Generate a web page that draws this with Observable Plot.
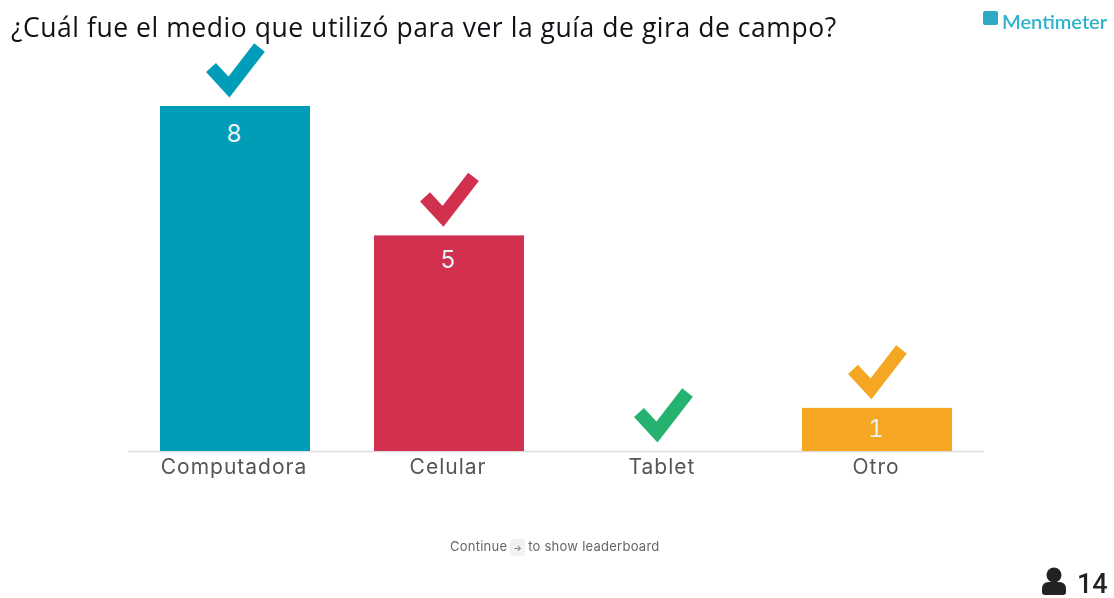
<!DOCTYPE html>
<html lang="es">
<head>
<meta charset="utf-8">
<script src="https://cdn.jsdelivr.net/npm/d3@7"></script>
<script src="https://cdn.jsdelivr.net/npm/@observablehq/plot@0.6"></script>
<style>
html,body{margin:0;padding:0;background:#fff;width:1114px;height:598px;overflow:hidden}
#wrap{position:relative;width:1114px;height:598px;filter:blur(0.7px)}
#wrap svg{display:block}
.abs{position:absolute;white-space:nowrap;line-height:1}
#title{left:11px;top:9px;font:500 26.5px "Open Sans",sans-serif;color:#111118;letter-spacing:.55px}
#logo{left:1002px;top:9px;font:600 20px Lato,sans-serif;color:#2fb3cc}
#mark{left:983px;top:11px;width:15px;height:14px;background:#2fa8c4;border-radius:2px}
#cont{left:450px;top:538px;font:13px Inter,sans-serif;color:#666;letter-spacing:.25px}
#cont span{display:inline-block;background:#f2f2f2;border-radius:3px;padding:3px 3px;margin:0 3px;font-size:9px}
#count{left:1077px;top:568px;font:500 27px Roboto,sans-serif;color:#222;padding-right:2px}
#user{left:1041px;top:567px}
g[aria-label="x-axis tick label"] text{letter-spacing:1px}
</style>
</head>
<body>
<div id="wrap">
  <div class="abs" id="title">¿Cuál fue el medio que utilizó para ver la guía de gira de campo?</div>
  <div class="abs" id="mark"></div>
  <div class="abs" id="logo">Mentimeter</div>
  <div class="abs" id="cont">Continue<span>→</span>to show leaderboard</div>
  <svg class="abs" id="user" width="26" height="30" viewBox="0 0 26 30"><circle cx="13" cy="8" r="7.5" fill="#222"/><path d="M1 25v-3q0-7 7-7h10q7 0 7 7v3q0 3-3 3h-18q-3 0-3-3z" fill="#222"/></svg>
  <div class="abs" id="count">14</div>
</div>
<script>
const categories = ["Computadora", "Celular", "Tablet", "Otro"];
const votes = [8, 5, 0, 1];
const colors = ["#009db8", "#d1304e", "#24b26e", "#f5a623"];
const rows = categories.map((name, i) => ({name, votes: votes[i], color: colors[i]}));

const check = {draw(c) {
  c.moveTo(-24.5, -39); c.lineTo(-6.5, -19.5); c.lineTo(24, -59);
}};
const labelDy = {Computadora: 28, Celular: 24, Otro: 21};

const chart = Plot.plot({
  width: 1114, height: 598,
  marginTop: 106, marginBottom: 147, marginLeft: 128, marginRight: 130,
  style: {background: "transparent", fontFamily: "Inter, sans-serif"},
  x: {domain: categories, paddingInner: 0.3, paddingOuter: 0.15, label: null},
  y: {domain: [0, 8], axis: null, label: null},
  marks: [
    Plot.ruleY([0], {stroke: "#dcdcdc", strokeWidth: 1.5}),
    Plot.barY(rows, {x: "name", y: "votes", fill: "color"}),
    Plot.dot(rows, {x: "name", y: "votes", symbol: () => check, fill: "none", stroke: "color", strokeWidth: 13.5, strokeLinejoin: "miter", strokeMiterlimit: 8}),
    ...rows.filter(d => d.votes > 0).map(d => Plot.text([d], {
      x: "name", y: "votes", text: "votes", dy: labelDy[d.name], dx: -1.5,
      fill: "#e4f3f5", fontSize: 24, fontFamily: "Inter, sans-serif"
    })),
    Plot.axisX({tickSize: 0, tickPadding: 8, dx: -1.5, fontSize: 21, fill: "#555", label: null, fontFamily: "Inter, sans-serif"})
  ]
});
document.getElementById("wrap").prepend(chart);
chart.style.position = "absolute";
chart.style.left = "0";
chart.style.top = "0";
</script>
</body>
</html>
